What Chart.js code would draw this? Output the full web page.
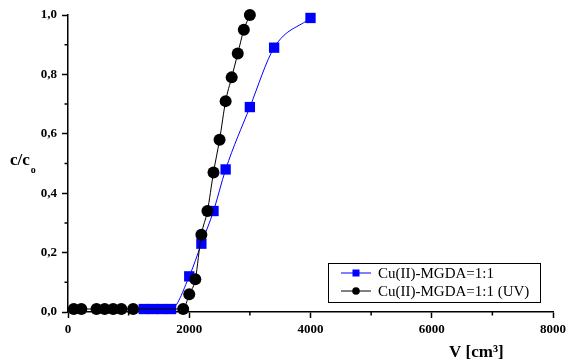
<!DOCTYPE html>
<html>
<head>
<meta charset="utf-8">
<script src="https://cdn.jsdelivr.net/npm/chart.js@4/dist/chart.umd.min.js"></script>
<style>
html,body{margin:0;padding:0;background:#fff;}
#wrap{width:567px;height:364px;position:relative;}
</style>
</head>
<body>
<div id="wrap"><canvas id="c" width="567" height="364"></canvas></div>
<script>
// Data
const seriesNames = ['Cu(II)-MGDA=1:1', 'Cu(II)-MGDA=1:1 (UV)'];
const blueV = [1250, 1400, 1550, 1700, 2000, 2200, 2400, 2600, 3000, 3400, 4000];
const blueC = [0.01, 0.01, 0.01, 0.01, 0.12, 0.23, 0.34, 0.48, 0.69, 0.89, 0.99];
const blackV = [95, 220, 470, 605, 745, 880, 1075, 1900, 2000, 2100, 2200, 2300, 2400, 2500, 2600, 2700, 2800, 2900, 3000];
const blackC = [0.01, 0.01, 0.01, 0.01, 0.01, 0.01, 0.01, 0.01, 0.06, 0.11, 0.26, 0.34, 0.47, 0.58, 0.71, 0.79, 0.87, 0.95, 1.0];
const xMinorTicks = [1000, 3000, 5000, 7000];
const yMinorTicks = [0.1, 0.3, 0.5, 0.7, 0.9];
const xTitle = 'V [cm³]';
const yTitleMain = 'c/c';
const yTitleSub = 'o';

const toPts = (xs, ys) => xs.map((x, i) => ({x: x, y: ys[i]}));

const extras = {
  id: 'extras',
  afterDraw(chart) {
    const ctx = chart.ctx;
    const xs = chart.scales.x, ys = chart.scales.y;
    ctx.save();
    // minor ticks
    ctx.strokeStyle = '#000';
    ctx.lineWidth = 1.5;
    ctx.beginPath();
    yMinorTicks.forEach(v => {
      const p = ys.getPixelForValue(v);
      ctx.moveTo(xs.left - 3.5, p); ctx.lineTo(xs.left, p);
    });
    xMinorTicks.forEach(v => {
      const p = xs.getPixelForValue(v);
      ctx.moveTo(p, ys.bottom); ctx.lineTo(p, ys.bottom + 3.5);
    });
    ctx.stroke();
    // axis titles
    ctx.fillStyle = '#000';
    ctx.textBaseline = 'alphabetic';
    ctx.textAlign = 'left';
    ctx.font = 'bold 17px "Liberation Serif"';
    ctx.fillText(yTitleMain, 10, 165);
    const w = ctx.measureText(yTitleMain).width;
    ctx.font = 'bold 10px "Liberation Serif"';
    ctx.fillText(yTitleSub, 10 + w + 1, 173);
    ctx.font = 'bold 17px "Liberation Serif"';
    ctx.fillText(xTitle, 449, 357);
    // legend
    const bx = 328, by = 263, bw = 212, bh = 39;
    ctx.fillStyle = '#fff';
    ctx.fillRect(bx, by, bw, bh);
    ctx.strokeStyle = '#000';
    ctx.lineWidth = 1;
    ctx.strokeRect(bx + 0.5, by + 0.5, bw, bh);
    const rows = [273, 291];
    chart.data.datasets.forEach((ds, i) => {
      const y = rows[i];
      ctx.strokeStyle = ds.borderColor;
      ctx.lineWidth = 1;
      ctx.beginPath();
      ctx.moveTo(341, y); ctx.lineTo(371, y);
      ctx.stroke();
      ctx.fillStyle = ds.backgroundColor;
      if (ds.pointStyle === 'rect') {
        ctx.fillRect(352.5, y - 3.5, 7, 7);
      } else {
        ctx.beginPath();
        ctx.arc(356, y, 3.8, 0, Math.PI * 2);
        ctx.fill();
      }
      ctx.fillStyle = '#000';
      ctx.font = '15px "Liberation Serif"';
      ctx.textBaseline = 'middle';
      ctx.fillText(ds.label, 378, y + 1);
    });
    ctx.restore();
  }
};

new Chart(document.getElementById('c'), {
  type: 'scatter',
  data: {
    datasets: [
      {
        label: seriesNames[0],
        data: toPts(blueV, blueC),
        showLine: true,
        borderColor: '#0000ff',
        backgroundColor: '#0000ff',
        borderWidth: 1,
        pointStyle: 'rect',
        pointRadius: 7.3,
        pointBorderWidth: 0,
        cubicInterpolationMode: 'monotone',
        clip: false,
        order: 2
      },
      {
        label: seriesNames[1],
        data: toPts(blackV, blackC),
        showLine: true,
        borderColor: '#000000',
        backgroundColor: '#000000',
        borderWidth: 1,
        pointStyle: 'circle',
        pointRadius: 6,
        pointBorderWidth: 0,
        cubicInterpolationMode: 'monotone',
        clip: false,
        order: 1
      }
    ]
  },
  options: {
    responsive: false,
    animation: false,
    devicePixelRatio: 1,
    layout: {padding: {top: 15, right: 14, left: 0, bottom: 0}},
    plugins: {legend: {display: false}, tooltip: {enabled: false}},
    scales: {
      x: {
        type: 'linear',
        min: 0, max: 8000,
        ticks: {
          stepSize: 2000,
          color: '#000',
          padding: 4,
          maxRotation: 0,
          font: {family: '"Liberation Serif"', size: 13, weight: 'bold'},
          callback: v => String(v)
        },
        grid: {drawOnChartArea: false, drawTicks: true, tickLength: 6, color: '#000', tickWidth: 1.5},
        border: {display: true, color: '#000', width: 1.5},
        afterFit(s) { s.height = 52; s.paddingLeft = 0; s.paddingRight = 0; }
      },
      y: {
        type: 'linear',
        min: 0, max: 1,
        ticks: {
          stepSize: 0.2,
          color: '#000',
          padding: 5,
          font: {family: '"Liberation Serif"', size: 13, weight: 'bold'},
          callback: v => v.toFixed(1).replace('.', ',')
        },
        grid: {drawOnChartArea: false, drawTicks: true, tickLength: 6, color: '#000', tickWidth: 1.5},
        border: {display: true, color: '#000', width: 1.5},
        afterFit(s) { s.width = 68; s.paddingTop = 0; s.paddingBottom = 0; }
      }
    }
  },
  plugins: [extras]
});
</script>
</body>
</html>
